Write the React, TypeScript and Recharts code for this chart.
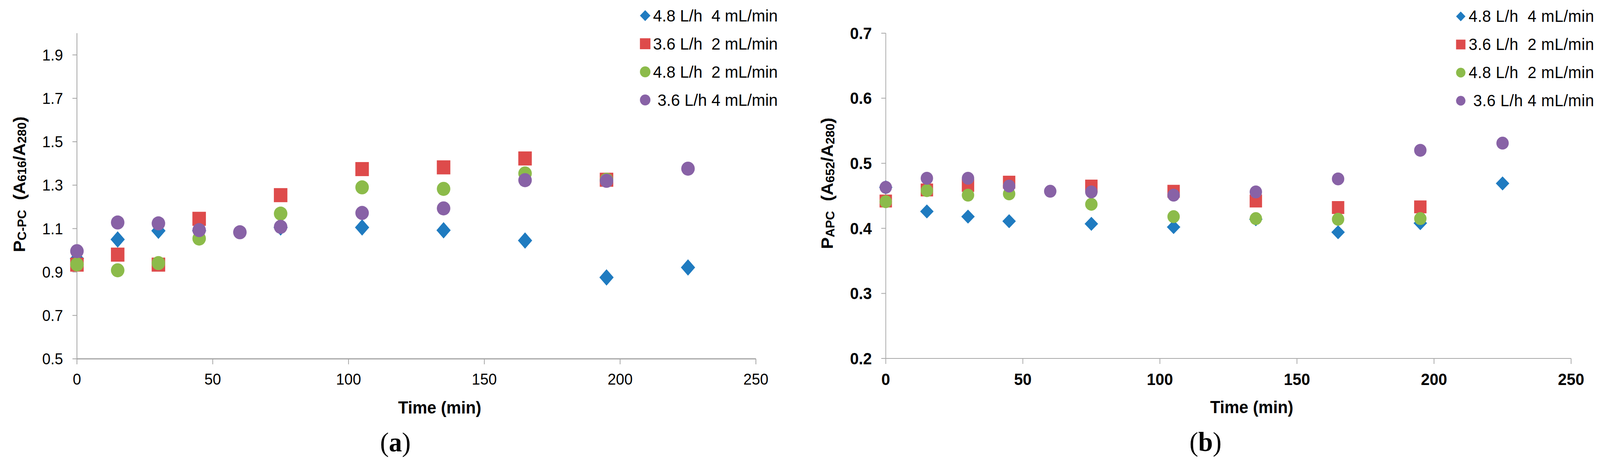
import React from "react";
import { ScatterChart, Scatter, XAxis, YAxis, Legend, Label } from "recharts";

const TIMES = [0, 15, 30, 45, 60, 75, 105, 135, 165, 195, 225];
const X_TICKS = [0, 50, 100, 150, 200, 250];

const SERIES_NAMES = ["4.8 L/h  4 mL/min", "3.6 L/h  2 mL/min", "4.8 L/h  2 mL/min", " 3.6 L/h 4 mL/min"];
const SERIES_COLORS = ["#1F7BC0", "#DE4B4B", "#8CBB4A", "#8862A6"];
const SERIES_SHAPES = ["diamond", "square", "circle", "circle"];

// (a) C-PC purity, null = no measurement
const CPC_48_4 = [0.962, 1.05, 1.09, 1.09, null, 1.105, 1.105, 1.092, 1.045, 0.875, 0.921];
const CPC_36_2 = [0.934, 0.98, 0.934, 1.145, null, 1.254, 1.374, 1.382, 1.423, 1.325, null];
const CPC_48_2 = [0.935, 0.908, 0.941, 1.054, null, 1.169, 1.29, 1.283, 1.354, 1.325, null];
const CPC_36_4 = [0.996, 1.128, 1.124, 1.093, 1.083, 1.108, 1.172, 1.193, 1.323, 1.32, 1.376];
const CPC_TICKS = [0.5, 0.7, 0.9, 1.1, 1.3, 1.5, 1.7, 1.9];

// (b) APC purity
const APC_48_4 = [0.463, 0.426, 0.418, 0.411, null, 0.407, 0.402, 0.414, 0.394, 0.408, 0.469];
const APC_36_2 = [0.442, 0.459, 0.466, 0.471, null, 0.465, 0.457, 0.442, 0.432, 0.433, null];
const APC_48_2 = [0.441, 0.458, 0.451, 0.453, null, 0.437, 0.418, 0.415, 0.414, 0.415, null];
const APC_36_4 = [0.463, 0.477, 0.477, 0.465, 0.457, 0.456, 0.451, 0.456, 0.476, 0.52, 0.531];
const APC_TICKS = [0.2, 0.3, 0.4, 0.5, 0.6, 0.7];

const FONT = "'Liberation Sans', Arial, sans-serif";
const SERIF = "'Liberation Serif', 'Times New Roman', serif";
const PAGE_W = 4263;
const PAGE_H = 1196;

const toPoints = (vals: (number | null)[]) =>
  TIMES.map((t, i) => ({ t, v: vals[i] })).filter((p) => p.v != null);

function Marker({ kind, cx, cy, w, h, fill }: any) {
  if (kind === "diamond") {
    const pts = `${cx},${cy - h / 2} ${cx + w / 2},${cy} ${cx},${cy + h / 2} ${cx - w / 2},${cy}`;
    return <polygon points={pts} fill={fill} />;
  }
  if (kind === "square") {
    return <rect x={cx - w / 2} y={cy - h / 2} width={w} height={h} fill={fill} />;
  }
  return <ellipse cx={cx} cy={cy} rx={w / 2} ry={h / 2} fill={fill} />;
}

function Panel(props: any) {
  const {
    left, width, margin, yDomain, yTicks, series, yLabel, caption,
    tickFont, axisStroke, xAxisStrokeWidth, markers, legendSize, legendFont,
    legendSpacing, legendLeft, legendTop, yLabelDx, yLabelDy,
  } = props;

  const renderLegend = () => (
    <div style={{ fontFamily: FONT, fontSize: legendFont, letterSpacing: legendSpacing, color: "#000" }}>
      {SERIES_NAMES.map((name, i) => (
        <div key={name} style={{ height: 72, display: "flex", alignItems: "center", whiteSpace: "pre" }}>
          <svg width={40} height={40} style={{ flex: "none" }}>
            <Marker kind={SERIES_SHAPES[i]} cx={19} cy={20} w={legendSize} h={legendSize} fill={SERIES_COLORS[i]} />
          </svg>
          <span>{name}</span>
        </div>
      ))}
    </div>
  );

  const renderYLabel = ({ viewBox }: any) => {
    const cx = viewBox.x + yLabelDx;
    const cy = viewBox.y + viewBox.height / 2 + yLabelDy;
    const sub = 32;
    const sh = 9;
    return (
      <text
        x={cx}
        y={cy}
        transform={`rotate(-90, ${cx}, ${cy})`}
        textAnchor="middle"
        dominantBaseline="central"
        fontFamily={FONT}
        fontWeight="bold"
        fontSize={45}
        fill="#000"
        style={{ whiteSpace: "pre" }}
      >
        <tspan>P</tspan>
        <tspan fontSize={sub} dy={sh}>{yLabel[0]}</tspan>
        <tspan dy={-sh}>{"  (A"}</tspan>
        <tspan fontSize={sub} dy={sh}>{yLabel[1]}</tspan>
        <tspan dy={-sh}>/A</tspan>
        <tspan fontSize={sub} dy={sh}>280</tspan>
        <tspan dy={-sh}>)</tspan>
      </text>
    );
  };

  const renderXTitle = ({ viewBox }: any) => {
    const mid = viewBox.x + viewBox.width / 2;
    return (
      <g>
        <text x={mid + 62} y={viewBox.y + 140} textAnchor="middle" fontFamily={FONT} fontWeight="bold" fontSize={44} fill="#000">
          Time (min)
        </text>
        <text x={mid + caption.dx} y={viewBox.y + 237} textAnchor="middle" fontFamily={SERIF} fontSize={70} fill="#000">
          (<tspan fontWeight="bold">{caption.letter}</tspan>)
        </text>
      </g>
    );
  };

  const tick = { fontFamily: FONT, fontSize: tickFont.size, fontWeight: tickFont.weight, fill: "#000" };

  return (
    <div style={{ position: "absolute", left, top: 0 }}>
      <ScatterChart width={width} height={PAGE_H} margin={margin}>
        <XAxis
          type="number"
          dataKey="t"
          domain={[0, 250]}
          ticks={X_TICKS}
          interval={0}
          height={120}
          tick={tick}
          tickSize={14}
          tickMargin={24}
          axisLine={{ stroke: axisStroke, strokeWidth: xAxisStrokeWidth }}
          tickLine={{ stroke: axisStroke, strokeWidth: 2 }}
        >
          <Label content={renderXTitle} />
        </XAxis>
        <YAxis
          type="number"
          dataKey="v"
          domain={yDomain}
          ticks={yTicks}
          interval={0}
          width={100}
          tick={tick}
          tickFormatter={(v: number) => v.toFixed(1)}
          tickSize={12}
          tickMargin={25}
          allowDataOverflow
          axisLine={{ stroke: axisStroke, strokeWidth: 2 }}
          tickLine={{ stroke: axisStroke, strokeWidth: 2 }}
        >
          <Label content={renderYLabel} />
        </YAxis>
        <Legend
          layout="vertical"
          align="center"
          verticalAlign="middle"
          content={renderLegend}
          wrapperStyle={{ left: legendLeft, top: legendTop, width: 388 }}
        />
        {series.map((vals: (number | null)[], i: number) => (
          <Scatter
            key={SERIES_NAMES[i]}
            name={SERIES_NAMES[i]}
            data={toPoints(vals)}
            fill={SERIES_COLORS[i]}
            isAnimationActive={false}
            shape={(p: any) => (
              <Marker
                kind={SERIES_SHAPES[i]}
                cx={p.cx}
                cy={p.cy}
                w={markers[SERIES_SHAPES[i]][0]}
                h={markers[SERIES_SHAPES[i]][1]}
                fill={SERIES_COLORS[i]}
              />
            )}
          />
        ))}
      </ScatterChart>
    </div>
  );
}

export default function App() {
  // the browser caps the viewport width below 4263, so fit the page to it
  const sx = Math.min(1, window.innerWidth / PAGE_W);
  const sy = Math.min(1, window.innerHeight / PAGE_H);
  return (
    <>
      <style>{"html, body { overflow: hidden; margin: 0; }"}</style>
      <div
        style={{
          position: "absolute",
          left: 0,
          top: 0,
          width: PAGE_W,
          height: PAGE_H,
          background: "#fff",
          overflow: "hidden",
          transform: `scale(${sx}, ${sy})`,
          transformOrigin: "0 0",
        }}
      >
        <Panel
          left={0}
          width={2130}
          margin={{ top: 85, right: 116, bottom: PAGE_H - 919 - 120, left: 105 }}
          yDomain={[0.5, 2.0]}
          yTicks={CPC_TICKS}
          series={[CPC_48_4, CPC_36_2, CPC_48_2, CPC_36_4]}
          yLabel={["C-PC", "616"]}
          yLabelDx={-55}
          yLabelDy={-30}
          caption={{ letter: "a", dx: -56 }}
          tickFont={{ size: 40, weight: "normal" }}
          axisStroke="#A3A3A3"
          xAxisStrokeWidth={3}
          markers={{ diamond: [38, 42], square: [36, 36], circle: [36, 36] }}
          legendSize={28}
          legendFont={43}
          legendSpacing={0}
          legendLeft={1700}
          legendTop={4}
        />
        <Panel
          left={2130}
          width={2133}
          margin={{ top: 85, right: 77, bottom: PAGE_H - 918 - 120, left: 130 }}
          yDomain={[0.2, 0.7]}
          yTicks={APC_TICKS}
          series={[APC_48_4, APC_36_2, APC_48_2, APC_36_4]}
          yLabel={["APC", "652"]}
          yLabelDx={-57}
          yLabelDy={-32}
          caption={{ letter: "b", dx: -61 }}
          tickFont={{ size: 42, weight: "bold" }}
          axisStroke="#A8A8A8"
          xAxisStrokeWidth={2}
          markers={{ diamond: [36, 36], square: [33, 33], circle: [33, 33] }}
          legendSize={25}
          legendFont={42}
          legendSpacing={0.6}
          legendLeft={1743}
          legendTop={6}
        />
      </div>
    </>
  );
}
